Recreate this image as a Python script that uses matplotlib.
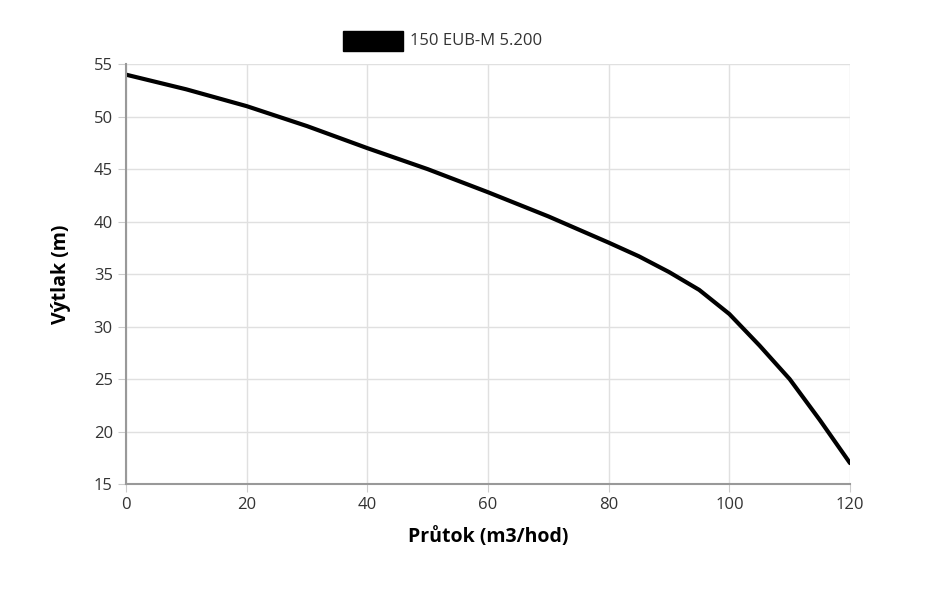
import matplotlib
matplotlib.use("Agg")
import matplotlib.pyplot as plt
from matplotlib.patches import Rectangle

flow = [0, 10, 20, 30, 40, 50, 60, 70, 80, 85, 90, 95, 100, 105, 110, 115, 120]
head = [54, 52.6, 51, 49.1, 47, 45, 42.8, 40.5, 38, 36.7, 35.2, 33.5, 31.2, 28.2, 25.0, 21.1, 17]
series_name = "150 EUB-M 5.200"

plt.rcParams['font.family'] = ['Open Sans', 'DejaVu Sans']
fig = plt.figure(figsize=(9.3, 5.94), dpi=100)
ax = fig.add_axes([0.1355, 0.185, 0.7785, 0.707])
ax.plot(flow, head, color='black', lw=3, solid_capstyle='round', solid_joinstyle='round')
ax.set_xlim(0, 120)
ax.set_ylim(15, 55)
ax.set_xticks(range(0, 121, 20))
ax.set_yticks(range(15, 56, 5))
ax.grid(True, color='#e0e0e0', lw=1)
for s in ['top', 'right']:
    ax.spines[s].set_visible(False)
for s in ['left', 'bottom']:
    ax.spines[s].set_color('#999999')
    ax.spines[s].set_linewidth(1.5)
ax.tick_params(colors='#333333', labelsize=12, length=6, color='#cccccc')
ax.set_xlabel('Průtok (m3/hod)', fontsize=14, fontweight='bold', labelpad=10)
ax.set_ylabel('Výtlak (m)', fontsize=14, fontweight='bold', labelpad=16)
fig.patches.append(Rectangle((343/930, 1-51/594), 60/930, 20/594, transform=fig.transFigure, color='black'))
fig.text(410/930, 1-41/594, series_name, fontsize=12, va='center', color='#333333')
fig.savefig('out.png')
